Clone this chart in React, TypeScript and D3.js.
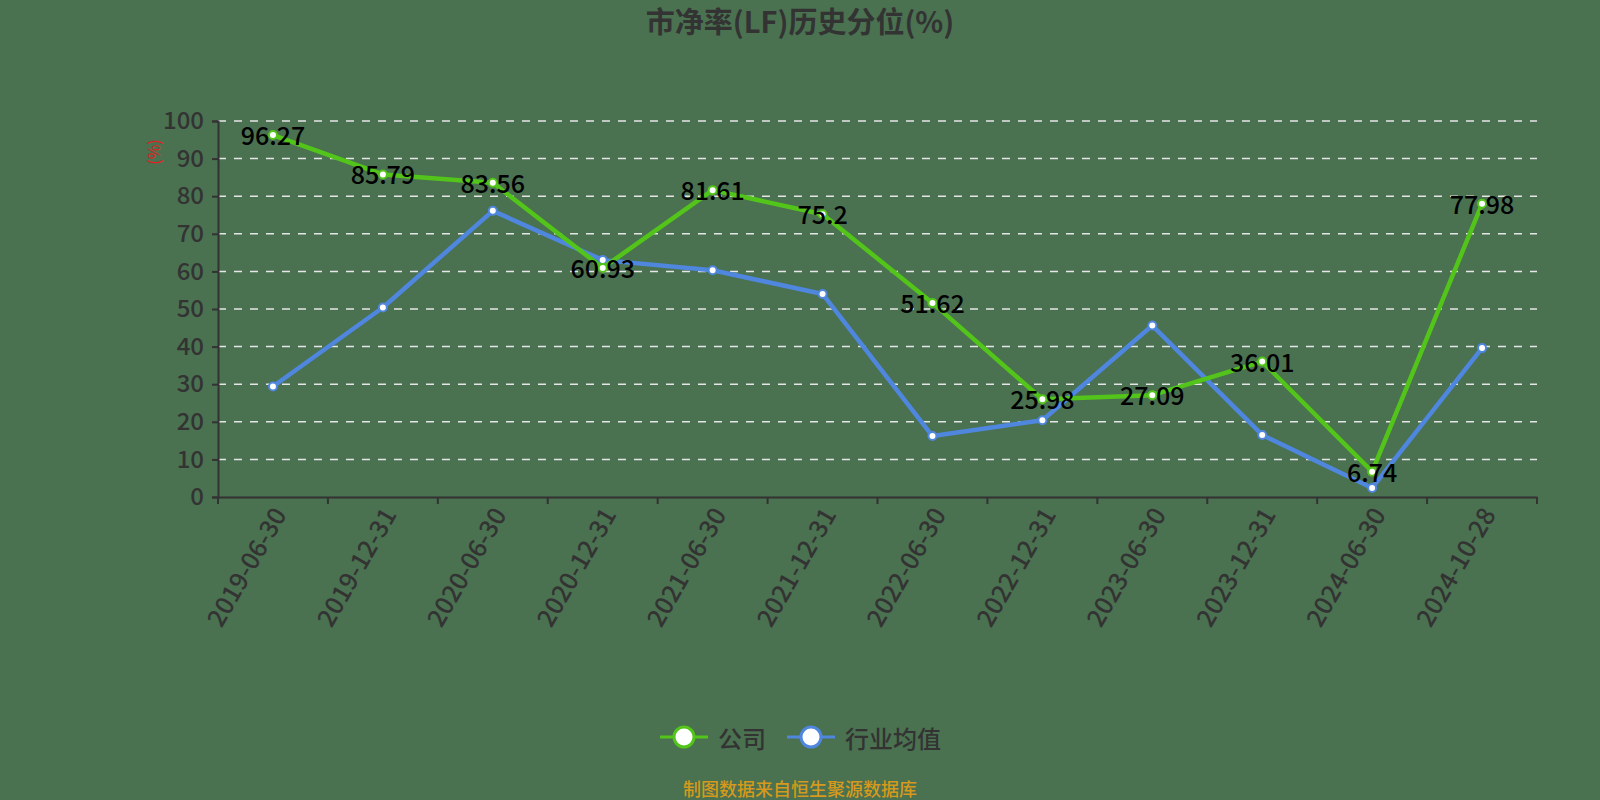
import * as d3 from "d3";
import { useEffect, useRef } from "react";

const dates = [
  "2019-06-30", "2019-12-31", "2020-06-30", "2020-12-31", "2021-06-30", "2021-12-31",
  "2022-06-30", "2022-12-31", "2023-06-30", "2023-12-31", "2024-06-30", "2024-10-28",
];
const company = [96.27, 85.79, 83.56, 60.93, 81.61, 75.2, 51.62, 25.98, 27.09, 36.01, 6.74, 77.98];
const industry = [29.4, 50.4, 76.1, 63.0, 60.3, 54.0, 16.2, 20.4, 45.6, 16.5, 2.4, 39.6];
const yTicks = [0, 10, 20, 30, 40, 50, 60, 70, 80, 90, 100];

const seriesNames = ["公司", "行业均值"];
const colors = ["#52c41a", "#4f86de"];

const FONT = "'Noto Sans CJK SC', 'Noto Sans', sans-serif";

const App = () => {
  const ref = useRef<SVGSVGElement | null>(null);

  useEffect(() => {
    const svg = d3.select(ref.current);
    svg.selectAll("*").remove();

    const width = 1600,
      height = 800,
      margin = { top: 121, right: 63, bottom: 303, left: 218 };
    const chartWidth = width - margin.left - margin.right;
    const chartHeight = height - margin.top - margin.bottom;

    svg.append("rect").attr("width", width).attr("height", height).attr("fill", "#4a7150");

    svg
      .append("text")
      .attr("x", 800)
      .attr("y", 33)
      .attr("text-anchor", "middle")
      .attr("font-family", FONT)
      .attr("font-size", 29)
      .attr("font-weight", "bold")
      .attr("fill", "#333")
      .text("市净率(LF)历史分位(%)");

    const xScale = d3.scaleBand().domain(dates).range([0, chartWidth]);
    const yScale = d3.scaleLinear().domain([0, 100]).range([chartHeight, 0]);
    const cx = (d: string) => (xScale(d) ?? 0) + xScale.bandwidth() / 2;

    const g = svg.append("g").attr("transform", `translate(${margin.left}, ${margin.top})`);

    // grid
    g.append("g")
      .selectAll("line")
      .data(yTicks.filter((t) => t > 0))
      .join("line")
      .attr("x1", 0)
      .attr("x2", chartWidth)
      .attr("y1", (d) => yScale(d))
      .attr("y2", (d) => yScale(d))
      .attr("stroke", "#e6e6e6")
      .attr("stroke-width", 1.5)
      .attr("stroke-dasharray", "8,8");

    // y axis
    const yAxis = g
      .append("g")
      .call(d3.axisLeft(yScale).tickValues(yTicks).tickSize(6).tickPadding(8));
    yAxis.select(".domain").attr("stroke", "#333").attr("stroke-width", 2);
    yAxis.selectAll(".tick line").attr("stroke", "#333").attr("stroke-width", 2);
    yAxis
      .selectAll(".tick text")
      .attr("fill", "#333")
      .attr("font-size", 24)
      .attr("font-weight", 500)
      .attr("font-family", FONT);

    svg
      .append("text")
      .attr("transform", `translate(160, 152) rotate(-90)`)
      .attr("text-anchor", "middle")
      .attr("font-family", FONT)
      .attr("font-size", 16)
      .attr("fill", "#e02020")
      .text("(%)");

    // x axis
    const xAxis = g
      .append("g")
      .attr("transform", `translate(0, ${chartHeight})`)
      .call(d3.axisBottom(xScale).tickSize(0).tickFormat(() => ""));
    xAxis.select(".domain").attr("stroke", "#333").attr("stroke-width", 2);
    g.append("g")
      .selectAll("line")
      .data(d3.range(dates.length + 1))
      .join("line")
      .attr("x1", (i) => i * xScale.step())
      .attr("x2", (i) => i * xScale.step())
      .attr("y1", chartHeight)
      .attr("y2", chartHeight + 7)
      .attr("stroke", "#333")
      .attr("stroke-width", 2);
    g.append("g")
      .selectAll("text")
      .data(dates)
      .join("text")
      .attr("transform", (d) => `translate(${cx(d) + 5}, ${chartHeight + 12}) rotate(-60)`)
      .attr("text-anchor", "end")
      .attr("dominant-baseline", "central")
      .attr("font-family", FONT)
      .attr("font-size", 25)
      .attr("font-weight", 500)
      .attr("fill", "#333")
      .text((d) => d);

    const line = d3
      .line<number>()
      .x((_, i) => cx(dates[i]))
      .y((d) => yScale(d));

    [industry, company].forEach((vals, k) => {
      const color = k === 0 ? colors[1] : colors[0];
      g.append("path")
        .datum(vals)
        .attr("fill", "none")
        .attr("stroke", color)
        .attr("stroke-width", 4.5)
        .attr("stroke-linejoin", "round")
        .attr("d", line);
      g.append("g")
        .selectAll("circle")
        .data(vals)
        .join("circle")
        .attr("cx", (_, i) => cx(dates[i]))
        .attr("cy", (d) => yScale(d))
        .attr("r", 4)
        .attr("fill", "#fff")
        .attr("stroke", color)
        .attr("stroke-width", 2);
    });

    g.append("g")
      .selectAll("text")
      .data(company)
      .join("text")
      .attr("x", (_, i) => cx(dates[i]))
      .attr("y", (d) => yScale(d) - 1)
      .attr("text-anchor", "middle")
      .attr("dominant-baseline", "central")
      .attr("font-family", FONT)
      .attr("font-size", 25)
      .attr("font-weight", 500)
      .attr("fill", "#000")
      .text((d) => String(d));

    // legend
    const legendItems = [
      { name: seriesNames[0], color: colors[0], x: 660, tx: 718 },
      { name: seriesNames[1], color: colors[1], x: 787, tx: 845 },
    ];
    const legend = svg.append("g");
    legendItems.forEach((it) => {
      legend
        .append("line")
        .attr("x1", it.x)
        .attr("x2", it.x + 48)
        .attr("y1", 737)
        .attr("y2", 737)
        .attr("stroke", it.color)
        .attr("stroke-width", 3);
      legend
        .append("circle")
        .attr("cx", it.x + 24)
        .attr("cy", 737)
        .attr("r", 10)
        .attr("fill", "#fff")
        .attr("stroke", it.color)
        .attr("stroke-width", 3);
      legend
        .append("text")
        .attr("x", it.tx)
        .attr("y", 737)
        .attr("dominant-baseline", "central")
        .attr("font-family", FONT)
        .attr("font-size", 24)
        .attr("font-weight", 500)
        .attr("fill", "#333")
        .text(it.name);
    });

    svg
      .append("text")
      .attr("x", 800)
      .attr("y", 788)
      .attr("text-anchor", "middle")
      .attr("dominant-baseline", "central")
      .attr("font-family", FONT)
      .attr("font-size", 18)
      .attr("font-weight", 500)
      .attr("fill", "#d59a1c")
      .text("制图数据来自恒生聚源数据库");
  }, []);

  return (
    <svg
      ref={ref}
      width={1600}
      height={800}
      style={{ position: "absolute", left: 0, top: 0 }}
    ></svg>
  );
};

export default App;
